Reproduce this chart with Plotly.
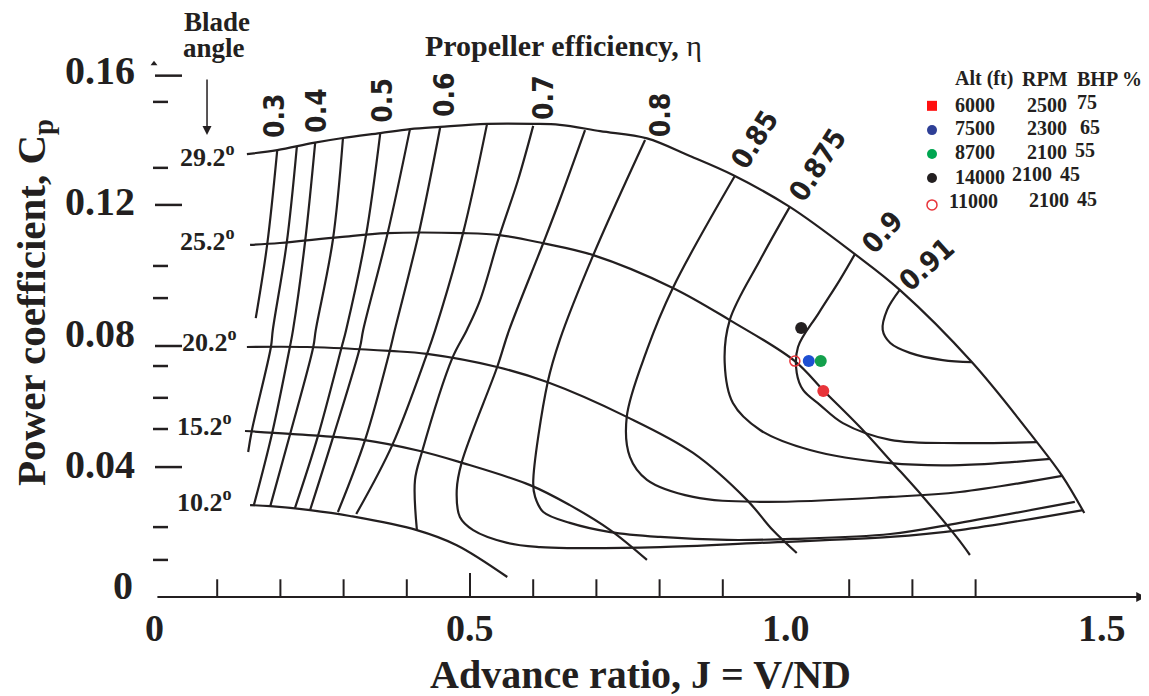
import plotly.graph_objects as go

# ---------------------------------------------------------------- data
# Constant blade-angle lines: advance ratio J and power coefficient Cp
beta_labels = ["29.2", "25.2", "20.2", "15.2", "10.2"]
beta_29_J = [0.147, 0.195, 0.252, 0.299, 0.358, 0.405, 0.453, 0.527, 0.600, 0.642, 0.706,
             0.780, 0.848, 0.916, 1.006, 1.109, 1.180, 1.294, 1.397, 1.437, 1.472]
beta_29_Cp = [0.1350, 0.1362, 0.1384, 0.1399, 0.1414, 0.1426, 0.1433, 0.1442, 0.1442, 0.1439, 0.1420,
              0.1398, 0.1344, 0.1286, 0.1189, 0.1045, 0.0936, 0.0716, 0.0472, 0.0369, 0.0256]
beta_25_J = [0.152, 0.199, 0.294, 0.369, 0.489, 0.547, 0.614, 0.695, 0.821, 0.911, 1.014,
             1.060, 1.117, 1.169, 1.217, 1.271, 1.291]
beta_25_Cp = [0.1073, 0.1079, 0.1097, 0.1109, 0.1109, 0.1103, 0.1079, 0.1042, 0.0942, 0.0844, 0.0719,
              0.0628, 0.0518, 0.0408, 0.0305, 0.0180, 0.0128]
beta_20_J = [0.147, 0.242, 0.373, 0.432, 0.543, 0.622, 0.748, 0.853, 0.938, 0.979, 1.017]
beta_20_Cp = [0.0762, 0.0762, 0.0750, 0.0741, 0.0701, 0.0655, 0.0549, 0.0439, 0.0296, 0.0204, 0.0134]
beta_15_J = [0.144, 0.215, 0.331, 0.421, 0.484, 0.595, 0.658, 0.722, 0.780]
beta_15_Cp = [0.0506, 0.0497, 0.0479, 0.0445, 0.0411, 0.0341, 0.0280, 0.0204, 0.0113]
beta_10_J = [0.152, 0.184, 0.247, 0.310, 0.416, 0.479, 0.559]
beta_10_Cp = [0.0280, 0.0277, 0.0265, 0.0247, 0.0204, 0.0158, 0.0061]

# Constant propeller-efficiency contours
eta_030_J = [0.195, 0.179, 0.161]
eta_030_Cp = [0.1362, 0.1073, 0.0850]
eta_035_J = [0.226, 0.210, 0.188, 0.185, 0.155, 0.149]
eta_035_Cp = [0.1372, 0.1079, 0.0814, 0.0762, 0.0509, 0.0442]
eta_040_J = [0.255, 0.239, 0.220, 0.215, 0.187, 0.158]
eta_040_Cp = [0.1384, 0.1082, 0.0814, 0.0762, 0.0500, 0.0280]
eta_045_J = [0.299, 0.283, 0.256, 0.252, 0.215, 0.184]
eta_045_Cp = [0.1399, 0.1088, 0.0814, 0.0762, 0.0494, 0.0277]
eta_050_J = [0.358, 0.335, 0.304, 0.297, 0.259, 0.223]
eta_050_Cp = [0.1414, 0.1097, 0.0814, 0.0762, 0.0488, 0.0271]
eta_055_J = [0.405, 0.369, 0.331, 0.326, 0.283, 0.247]
eta_055_Cp = [0.1426, 0.1103, 0.0814, 0.0762, 0.0485, 0.0265]
eta_060_J = [0.453, 0.419, 0.381, 0.373, 0.334, 0.291]
eta_060_Cp = [0.1433, 0.1109, 0.0814, 0.0750, 0.0479, 0.0259]
eta_065_J = [0.527, 0.489, 0.445, 0.432, 0.377, 0.320]
eta_065_Cp = [0.1442, 0.1109, 0.0814, 0.0741, 0.0463, 0.0253]
eta_070_J = [0.600, 0.576, 0.547, 0.516, 0.495, 0.472, 0.424, 0.413, 0.416]
eta_070_Cp = [0.1436, 0.1271, 0.1103, 0.0905, 0.0814, 0.0728, 0.0442, 0.0357, 0.0204]
eta_075_J = [0.682, 0.642, 0.616, 0.562, 0.543, 0.487, 0.479, 0.484, 0.505, 0.559, 0.611,
             0.658, 0.801, 0.959, 1.165, 1.275, 1.470]
eta_075_Cp = [0.1423, 0.1210, 0.1079, 0.0814, 0.0701, 0.0411, 0.0326, 0.0244, 0.0204, 0.0165, 0.0152,
              0.0149, 0.0152, 0.0165, 0.0183, 0.0204, 0.0265]
eta_080_J = [0.777, 0.695, 0.642, 0.623, 0.600, 0.603, 0.616, 0.658, 0.722, 0.801, 0.907,
             1.011, 1.165, 1.275, 1.457]
eta_080_Cp = [0.1393, 0.1042, 0.0783, 0.0655, 0.0347, 0.0305, 0.0259, 0.0226, 0.0198, 0.0183, 0.0174,
              0.0177, 0.0192, 0.0226, 0.0290]
eta_085_J = [0.919, 0.821, 0.780, 0.748, 0.753, 0.780, 0.853, 0.959, 1.165, 1.275, 1.437]
eta_085_Cp = [0.1283, 0.0942, 0.0753, 0.0549, 0.0427, 0.0357, 0.0305, 0.0290, 0.0305, 0.0320, 0.0369]
eta_0875_J = [1.006, 0.959, 0.911, 0.903, 0.916, 0.959, 1.038, 1.165, 1.275, 1.418]
eta_0875_Cp = [0.1189, 0.1027, 0.0844, 0.0713, 0.0591, 0.0509, 0.0448, 0.0408, 0.0402, 0.0421]
eta_090_J = [1.109, 1.085, 1.052, 1.019, 1.017, 1.027, 1.054, 1.090, 1.165, 1.275, 1.397]
eta_090_Cp = [0.1045, 0.0966, 0.0866, 0.0762, 0.0683, 0.0631, 0.0585, 0.0530, 0.0479, 0.0469, 0.0472]
eta_091_J = [1.180, 1.160, 1.153, 1.165, 1.196, 1.248, 1.294]
eta_091_Cp = [0.0936, 0.0875, 0.0814, 0.0774, 0.0744, 0.0722, 0.0716]

eta_labels = ["0.3", "0.4", "0.5", "0.6", "0.7", "0.8", "0.85", "0.875", "0.9", "0.91"]

# Operating points
alt_ft = ["6000", "7500", "8700", "14000", "11000"]
rpm = ["2500", "2300", "2100", "2100", "2100"]
bhp_pct = ["75", "65", "55", "45", "45"]
point_J = [1.059, 1.036, 1.055, 1.024, 1.014]
point_Cp = [0.0628, 0.0719, 0.0719, 0.0820, 0.0719]

# Axis ticks
x_tick_labels = ["0", "0.5", "1.0", "1.5"]
x_tick_label_vals = [0.0, 0.5, 1.0, 1.5]
x_minor_ticks = [0.1, 0.2, 0.3, 0.4, 0.5, 0.6, 0.7, 0.8, 0.9, 1.1, 1.2, 1.3]
y_tick_labels = ["0.16", "0.12", "0.08", "0.04"]
y_tick_label_vals = [0.16, 0.12, 0.08, 0.04]
y_dash_vals = [0.1589, 0.1509, 0.1308, 0.1195, 0.1009, 0.0911, 0.0765, 0.0704,
               0.0607, 0.0512, 0.0396, 0.0213, 0.0113]
y_dash_long = [0.1589, 0.1195, 0.0765, 0.0396]

# ---------------------------------------------------------------- styling
INK = "#231f20"
SERIF = "Liberation Serif, Times New Roman, serif"
NARROW = "Liberation Sans Narrow, DejaVu Sans Condensed, Roboto Condensed, Arial Narrow, sans-serif"
point_colors = ["#e8343a", "#1e4fd2", "#13a04c", "#231f20", "#e8343a"]
legend_colors = ["#ff1010", "#2e3f96", "#00a651", "#231f20", "#e8343a"]
point_symbols = ["circle", "circle", "circle", "circle", "circle-open"]
legend_symbols = ["square", "circle", "circle", "circle", "circle-open"]

fig = go.Figure()

blade_lines = [(beta_29_J, beta_29_Cp), (beta_25_J, beta_25_Cp), (beta_20_J, beta_20_Cp),
               (beta_15_J, beta_15_Cp), (beta_10_J, beta_10_Cp)]
eta_lines = [(eta_030_J, eta_030_Cp), (eta_035_J, eta_035_Cp), (eta_040_J, eta_040_Cp),
             (eta_045_J, eta_045_Cp), (eta_050_J, eta_050_Cp), (eta_055_J, eta_055_Cp),
             (eta_060_J, eta_060_Cp), (eta_065_J, eta_065_Cp), (eta_070_J, eta_070_Cp),
             (eta_075_J, eta_075_Cp), (eta_080_J, eta_080_Cp), (eta_085_J, eta_085_Cp),
             (eta_0875_J, eta_0875_Cp), (eta_090_J, eta_090_Cp), (eta_091_J, eta_091_Cp)]

for xs, ys in blade_lines + eta_lines:
    fig.add_trace(go.Scatter(x=xs, y=ys, mode="lines",
                             line=dict(color=INK, width=2.2, shape="spline", smoothing=1.0),
                             hoverinfo="skip"))

# x-axis minor ticks
tick_x, tick_y = [], []
for v in x_minor_ticks:
    top = 0.0073 if v == 0.5 else 0.0054
    tick_x += [v, v, None]
    tick_y += [0, top, None]
fig.add_trace(go.Scatter(x=tick_x, y=tick_y, mode="lines",
                         line=dict(color=INK, width=2), hoverinfo="skip"))

# y-axis dashes
dash_x, dash_y = [], []
for v in y_dash_vals:
    if v in y_dash_long:
        dash_x += [0.0016, 0.0443, None]
    else:
        dash_x += [-0.0016, 0.0222, None]
    dash_y += [v, v, None]
fig.add_trace(go.Scatter(x=dash_x, y=dash_y, mode="lines",
                         line=dict(color=INK, width=2.5), hoverinfo="skip"))

# small arrowhead on top of the Cp scale
fig.add_trace(go.Scatter(x=[0.0], y=[0.1625], mode="markers",
                         marker=dict(symbol="triangle-up", size=6, color=INK), hoverinfo="skip"))

# operating points on the chart
for j, cp, c, s in zip(point_J, point_Cp, point_colors, point_symbols):
    fig.add_trace(go.Scatter(x=[j], y=[cp], mode="markers",
                             marker=dict(symbol=s, size=12 if s == "circle" else 10, color=c,
                                         line=dict(color=c, width=1.5 if s == "circle-open" else 0)),
                             hoverinfo="skip"))

# legend block (custom table)
legend_marker_J = 1.231
legend_row_Cp = [0.1497, 0.1423, 0.1350, 0.1277, 0.1195]
for cp, c, s in zip(legend_row_Cp, legend_colors, legend_symbols):
    fig.add_trace(go.Scatter(x=[legend_marker_J], y=[cp], mode="markers",
                             marker=dict(symbol=s, size=10, color=c,
                                         line=dict(color=c, width=1.5 if s == "circle-open" else 0)),
                             hoverinfo="skip"))

ann = []


def text(t, x, y, size, family=SERIF, xanchor="center", yanchor="middle", angle=0, color=INK):
    ann.append(dict(text=t, x=x, y=y, xref="x", yref="y", showarrow=False,
                    font=dict(size=size, family=family, color=color),
                    xanchor=xanchor, yanchor=yanchor, textangle=angle))


# legend texts
text("<b>Alt (ft)</b>", 1.264, 0.1579, 20, xanchor="left")
text("<b>RPM</b>", 1.370, 0.1579, 20, xanchor="left")
text("<b>BHP %</b>", 1.457, 0.1579, 20, xanchor="left")
alt_pos = [(1.264, 0.1500), (1.264, 0.1429), (1.264, 0.1356), (1.264, 0.1280), (1.255, 0.1207)]
rpm_pos = [(1.378, 0.1500), (1.378, 0.1429), (1.378, 0.1356), (1.354, 0.1289), (1.381, 0.1210)]
bhp_pos = [(1.457, 0.1509), (1.462, 0.1432), (1.454, 0.1362), (1.430, 0.1289), (1.457, 0.1213)]
for i in range(5):
    text("<b>%s</b>" % alt_ft[i], *alt_pos[i], 20, xanchor="left")
    text("<b>%s</b>" % rpm[i], *rpm_pos[i], 20, xanchor="left")
    text("<b>%s</b>" % bhp_pct[i], *bhp_pos[i], 20, xanchor="left")

# efficiency labels
eta_label_pos = [(0.190, 0.1466, -90), (0.256, 0.1484, -90), (0.362, 0.1515, -90),
                 (0.459, 0.1530, -90), (0.617, 0.1524, -90), (0.801, 0.1469, -90),
                 (0.951, 0.1393, -58), (1.051, 0.1317, -57), (1.152, 0.1112, -48),
                 (1.223, 0.1012, -42)]
for lab, (x, y, a) in zip(eta_labels, eta_label_pos):
    text("<b>%s</b>" % lab, x, y, 28, family=NARROW, angle=a)

# blade angle labels
beta_label_pos = [(0.038, 0.1347), (0.038, 0.1091), (0.041, 0.0783), (0.033, 0.0527), (0.033, 0.0293)]
for lab, (x, y) in zip(beta_labels, beta_label_pos):
    text("<b>%s<sup>o</sup></b>" % lab, x, y, 26, xanchor="left")

text("<b>Blade</b>", 0.0997, 0.1752, 27)
text("<b>angle</b>", 0.0949, 0.1672, 27)
ann.append(dict(x=0.0839, y=0.1408, ax=0.0839, ay=0.1582, xref="x", yref="y", axref="x", ayref="y",
                text="", showarrow=True, arrowhead=2, arrowsize=1.2, arrowwidth=1.5, arrowcolor=INK))

text("<b>Propeller efficiency, </b>η", 0.426, 0.1680, 30, xanchor="left")

# tick labels
for lab, v in zip(y_tick_labels, y_tick_label_vals):
    text("<b>%s</b>" % lab, -0.0269, v + 0.0004, 40, xanchor="right")
text("<b>0</b>", -0.030, 0.0034, 40, xanchor="right")
for lab, v in zip(x_tick_labels, x_tick_label_vals):
    text("<b>%s</b>" % lab, v, -0.0094, 38)

# axis titles
text("<b>Advance ratio, J = V/ND</b>", 0.769, -0.0235, 40)
text("<b>Power coefficient, C<sub>p</sub></b>", -0.1900, 0.0899, 41, angle=-90)

# x axis line with arrow
ann.append(dict(x=1.570, y=0, ax=0.003, ay=0, xref="x", yref="y", axref="x", ayref="y",
                text="", showarrow=True, arrowhead=2, arrowsize=1.0, arrowwidth=2, arrowcolor=INK))

# the page places the figure 8 px in from the top-left corner; the ranges account for it
fig.update_layout(
    width=1149, height=696, autosize=False,
    margin=dict(l=0, r=0, t=0, b=0, pad=0),
    paper_bgcolor="white", plot_bgcolor="white",
    showlegend=False,
    xaxis=dict(range=[(8 - 154) / 632, (1157 - 154) / 632], visible=False, fixedrange=True),
    yaxis=dict(range=[(597 - 704) / 3281, (597 - 8) / 3281], visible=False, fixedrange=True),
    annotations=ann,
)

fig.write_html("out.html")
